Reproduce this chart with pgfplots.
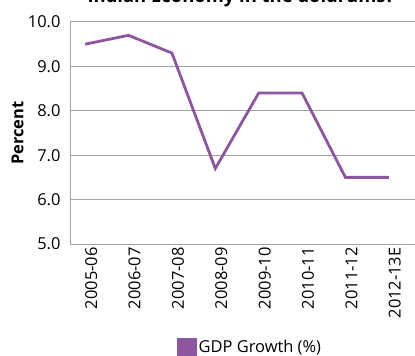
\documentclass[border=0pt]{standalone}
\usepackage{pgfplots}
\pgfplotsset{compat=1.18}
\usepackage{fontspec}
\setmainfont{Open Sans}
\definecolor{linepurple}{HTML}{8E55A0}
\definecolor{framegray}{HTML}{9DA59D}
\begin{document}
\begin{tikzpicture}[x=1bp,y=1bp]
\begin{axis}[
  at={(70bp,112bp)}, anchor=south west,
  width=353.5bp, height=222bp, scale only axis,
  xmin=-0.35, xmax=7.8, ymin=5, ymax=10,
  ytick={5,6,7,8,9,10},
  /pgf/number format/assume math mode=true,
  yticklabel style={/pgf/number format/fixed, /pgf/number format/fixed zerofill, /pgf/number format/precision=1, xshift=-6bp},
  xtick={0,1,2,3,4,5,6,7},
  xticklabels={2005-06,2006-07,2007-08,2008-09,2009-10,2010-11,2011-12,2012-13E},
  x tick label style={rotate=90, anchor=east, yshift=-6bp},
  ymajorgrids, grid style={framegray, line width=1bp},
  axis line style={framegray, line width=1bp},
  major tick length=0pt,
  tick label style={font=\fontsize{16.5}{19}\selectfont},
  ylabel={\bfseries Percent},
  ylabel style={at={(axis description cs:-0.1485,0.5)}, anchor=center, font=\fontsize{16.5}{19}\selectfont},
  legend style={at={(0.509,-0.465)}, anchor=center, draw=none, fill=none, font=\fontsize{16.5}{19}\selectfont},
  legend image code/.code={\fill[linepurple] (0bp,-7bp) rectangle (17bp,8bp);},
]
\addplot[linepurple, line width=2.8bp] coordinates {(0,9.5)(1,9.7)(2,9.3)(3,6.7)(4,8.4)(5,8.4)(6,6.5)(7,6.5)};
\addlegendentry{GDP Growth (\%)}
\end{axis}
\node[anchor=base, font=\bfseries\fontsize{18.5}{22}\selectfont] at (241bp,353.5bp) {Indian Economy in the doldrums?};
\pgfresetboundingbox
\path (0bp,0bp) rectangle (415bp,356bp);
\end{tikzpicture}
\end{document}
